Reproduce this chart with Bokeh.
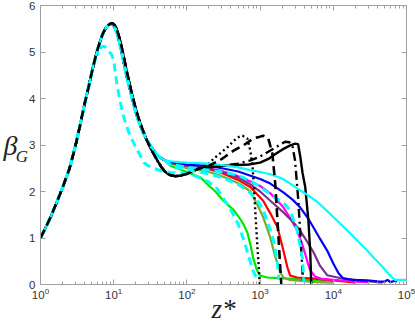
from bokeh.plotting import figure
from bokeh.models import LogAxis, LinearAxis, FixedTicker, CustomJSTickFormatter
from bokeh.embed import file_html
from bokeh.resources import INLINE

# ---------------- data (z*, beta_G) ----------------
RISE_Z = [1, 1.2, 1.4, 1.7, 2, 2.5, 3, 3.5, 4, 4.5, 5, 5.5, 6, 6.5, 7, 7.5, 8]
RISE_B = [1.0, 1.25, 1.48, 1.8, 2.08, 2.5, 2.98, 3.45, 3.88, 4.22, 4.55, 4.82, 5.05, 5.22, 5.37, 5.47, 5.54]

BUNDLE_Z = [8.5, 9, 9.5, 10, 10.5, 11, 12, 13, 14, 15, 16, 18, 20, 22, 25, 28, 32, 36, 40, 45, 50]
BUNDLE_B = [5.58, 5.6, 5.59, 5.56, 5.5, 5.42, 5.2, 4.95, 4.7, 4.48, 4.3, 3.98, 3.7, 3.5, 3.28, 3.12, 2.98, 2.86, 2.77, 2.71, 2.67]

BLACK_Z = [8.5, 9, 9.5, 10, 10.5, 11, 12, 13, 14, 15, 16, 18, 20, 22, 25, 28, 32, 36, 40, 45, 50, 55, 60, 70, 80, 100, 120, 150]
BLACK_B = [5.58, 5.61, 5.62, 5.6, 5.56, 5.49, 5.3, 5.07, 4.83, 4.6, 4.4, 4.06, 3.78, 3.56, 3.32, 3.12, 2.93, 2.78, 2.65, 2.52, 2.43, 2.38, 2.35, 2.33, 2.34, 2.38, 2.44, 2.5]

GREEN_Z = [60, 80, 100, 154, 192, 245, 316, 436, 540, 590, 670, 740, 810, 910, 1000, 1250, 2800, 10000]
GREEN_B = [2.55, 2.48, 2.42, 2.3, 2.15, 2.0, 1.8, 1.6, 1.4, 1.3, 1.12, 0.85, 0.55, 0.3, 0.19, 0.15, 0.12, 0.06]

OLIVE_Z = [60, 80, 100, 200, 300, 400, 540, 740, 960, 1100, 1250, 1380, 1610, 1900, 2080, 2500, 4000, 6000, 10000]
OLIVE_B = [2.6, 2.55, 2.5, 2.42, 2.33, 2.25, 2.15, 2.0, 1.65, 1.45, 1.2, 1.0, 0.6, 0.25, 0.15, 0.1, 0.07, 0.05, 0.04]

RED_Z = [60, 80, 100, 200, 300, 500, 740, 1100, 1380, 1730, 1900, 2080, 2360, 2580, 3200, 5000, 10000, 15000, 20000]
RED_B = [2.62, 2.58, 2.55, 2.48, 2.4, 2.25, 2.09, 1.8, 1.53, 1.23, 0.98, 0.73, 0.37, 0.19, 0.15, 0.13, 0.09, 0.06, 0.04]

MAGENTA_Z = [60, 80, 100, 200, 300, 500, 810, 1000, 1380, 2080, 2600, 3200, 3700, 4140, 4500, 4850, 5660, 7000, 10000, 15000, 20000, 30000]
MAGENTA_B = [2.63, 2.59, 2.56, 2.5, 2.44, 2.33, 2.19, 2.12, 1.96, 1.66, 1.42, 1.16, 0.9, 0.65, 0.45, 0.3, 0.17, 0.12, 0.1, 0.08, 0.06, 0.05]

PURPLE_Z = [60, 80, 100, 200, 300, 500, 740, 1000, 1380, 2080, 2800, 3520, 4400, 5340, 6600, 8240, 12300, 23000, 35000, 47000]
PURPLE_B = [2.62, 2.58, 2.55, 2.5, 2.42, 2.3, 2.15, 2.0, 1.8, 1.55, 1.35, 1.16, 0.92, 0.7, 0.4, 0.2, 0.14, 0.09, 0.06, 0.04]

BLUE_Z = [60, 80, 100, 200, 300, 500, 740, 1000, 1380, 2080, 2800, 3520, 4400, 5340, 6600, 8240, 10000, 11800, 13700, 18000, 29000, 40000, 50000, 55000, 60000, 70000, 74000]
BLUE_B = [2.63, 2.6, 2.58, 2.55, 2.5, 2.43, 2.34, 2.27, 2.17, 1.98, 1.82, 1.66, 1.45, 1.23, 0.98, 0.73, 0.45, 0.24, 0.13, 0.1, 0.09, 0.07, 0.06, 0.1, 0.05, 0.08, 0.06]

CYAN_Z = [60, 80, 100, 200, 300, 500, 740, 1000, 1380, 2000, 2580, 3500, 4500, 6000, 8000, 10000, 13000, 17000, 22000, 29000, 37000, 47600, 56000, 63600, 70000, 80000, 100000]
CYAN_B = [2.65, 2.63, 2.62, 2.6, 2.57, 2.52, 2.46, 2.42, 2.37, 2.28, 2.17, 2.03, 1.92, 1.78, 1.6, 1.45, 1.28, 1.1, 0.92, 0.73, 0.55, 0.37, 0.24, 0.15, 0.1, 0.1, 0.1]

CD1_Z = [6, 6.5, 7, 7.5, 8, 8.5, 9, 9.5, 10, 11, 12, 13, 14, 16, 18, 20, 23, 26, 30, 35, 45, 60, 80, 100, 130, 160, 200, 250, 316, 400, 500, 600, 700, 800, 900, 1000]
CD1_B = [4.95, 5.08, 5.12, 5.12, 5.08, 5.02, 4.98, 4.92, 4.82, 4.35, 4.0, 3.75, 3.55, 3.28, 3.1, 2.95, 2.78, 2.62, 2.55, 2.5, 2.44, 2.41, 2.4, 2.38, 2.33, 2.28, 2.2, 2.1, 1.85, 1.6, 1.3, 0.95, 0.6, 0.3, 0.12, 0.08]

CD2_Z = [60, 80, 100, 200, 300, 500, 700, 900, 1100, 1250, 1400, 1550, 1650, 1730, 1780, 1800]
CD2_B = [2.55, 2.5, 2.47, 2.38, 2.3, 2.15, 2.0, 1.82, 1.62, 1.35, 1.15, 0.9, 0.65, 0.45, 0.25, 0.1]

CD3_Z = [60, 80, 100, 300, 500, 800, 1100, 1500, 2080, 2580, 3200, 3500, 3770, 3900, 3950]
CD3_B = [2.58, 2.55, 2.52, 2.42, 2.35, 2.2, 2.05, 1.9, 1.76, 1.59, 1.16, 0.85, 0.58, 0.24, 0.05]

DOTTED_Z = [200, 230, 300, 357, 420, 490, 575, 670, 735, 790, 830, 870, 920, 960, 990]
DOTTED_B = [2.6, 2.7, 2.85, 2.95, 3.06, 3.16, 3.2, 3.14, 2.88, 2.52, 2.0, 1.44, 0.8, 0.37, 0.0]

DASHED_Z = [200, 300, 435, 600, 810, 1000, 1100, 1290, 1470, 1610, 1770, 1870, 1950]
DASHED_B = [2.55, 2.7, 2.88, 3.0, 3.14, 3.18, 3.2, 3.15, 2.82, 2.17, 1.1, 0.45, 0.0]

DASHDOT_Z = [200, 300, 500, 740, 1000, 1380, 1800, 2200, 2500, 2750, 3000, 3330, 3600, 3880]
DASHDOT_B = [2.52, 2.55, 2.6, 2.67, 2.75, 2.88, 2.99, 3.07, 3.06, 3.0, 2.67, 1.8, 0.9, 0.0]

SOLID_Z = [200, 300, 500, 700, 1000, 1300, 1600, 2000, 2500, 3000, 3300, 3540, 3800, 4140, 4570, 4850, 5000]
SOLID_B = [2.52, 2.55, 2.57, 2.58, 2.62, 2.7, 2.8, 2.9, 2.98, 3.03, 3.02, 2.75, 2.4, 2.09, 1.38, 0.67, 0.0]

X_TICKS = [1, 10, 100, 1000, 10000, 100000]
Y_TICKS = [0, 1, 2, 3, 4, 5, 6]
X_LABEL = "z*"
Y_LABEL_MAIN = "β"
Y_LABEL_SUB = " \nG"

AXIS_GRAY = "#a0a0a0"
LABEL_COLOR = "#222222"

# ---------------- figure ----------------
p = figure(width=415, height=327, x_axis_type="log", x_range=(1, 1e5), y_range=(0, 6),
           output_backend="svg", toolbar_location=None,
           min_border_left=39, min_border_right=9, min_border_top=5, min_border_bottom=43)
p.grid.visible = False
p.outline_line_color = AXIS_GRAY
p.background_fill_color = "white"
p.border_fill_color = "white"

x_minor = [t * k for t in X_TICKS[:-1] for k in range(2, 10)]

top = LogAxis(formatter=CustomJSTickFormatter(code="return ''"))
right = LinearAxis(formatter=CustomJSTickFormatter(code="return ''"))
p.add_layout(top, "above")
p.add_layout(right, "right")

for ax in p.axis:
    ax.axis_line_color = AXIS_GRAY
    ax.major_tick_line_color = AXIS_GRAY
    ax.minor_tick_line_color = AXIS_GRAY
    ax.major_tick_in = 5
    ax.major_tick_out = 0
    ax.minor_tick_in = 3
    ax.minor_tick_out = 0
    ax.major_label_text_font = "Liberation Sans"
    ax.major_label_text_font_size = "11.5px"
    ax.major_label_text_color = "#333333"
    ax.major_label_standoff = 3
for ax in p.xaxis:
    ax.ticker = FixedTicker(ticks=X_TICKS, minor_ticks=x_minor)
for ax in p.yaxis:
    ax.ticker = FixedTicker(ticks=Y_TICKS)
    ax.minor_tick_line_color = None
for ax in (top, right):
    ax.major_label_text_font_size = "1px"
    ax.major_label_standoff = 0

# x-axis title
xb = p.below[0]
xb.axis_label = X_LABEL
xb.axis_label_text_font = "Liberation Serif"
xb.axis_label_text_font_style = "italic"
xb.axis_label_text_font_size = "27px"
xb.axis_label_text_color = LABEL_COLOR
xb.axis_label_standoff = -8

# y-axis title: subscript on the inner axis, main symbol on an outer, bare axis
yl = p.left[0]
yl.axis_label = Y_LABEL_SUB
yl.axis_label_orientation = "horizontal"
yl.axis_label_text_font = "Liberation Serif"
yl.axis_label_text_font_style = "italic"
yl.axis_label_text_font_size = "17px"
yl.axis_label_text_color = LABEL_COLOR
yl.axis_label_standoff = -2
yl.major_label_standoff = 5

outer = LinearAxis(ticker=FixedTicker(ticks=[]), formatter=CustomJSTickFormatter(code="return ''"),
                   axis_line_color=None, major_tick_line_color=None, minor_tick_line_color=None,
                   major_label_text_font_size="1px", major_label_standoff=0,
                   axis_label=Y_LABEL_MAIN, axis_label_orientation="horizontal",
                   axis_label_text_font="Liberation Serif", axis_label_text_font_style="italic",
                   axis_label_text_font_size="28px", axis_label_text_color=LABEL_COLOR,
                   axis_label_standoff=-5)
p.add_layout(outer, "left")


def cat(*arrs):
    out = []
    for a in arrs:
        out += list(a)
    return out


colored = [
    (GREEN_Z, GREEN_B, "#00e600"),
    (OLIVE_Z, OLIVE_B, "#77ac30"),
    (RED_Z, RED_B, "#ff0000"),
    (MAGENTA_Z, MAGENTA_B, "#ff00ff"),
    (PURPLE_Z, PURPLE_B, "#7e2f8e"),
    (BLUE_Z, BLUE_B, "#0000ff"),
]
for zs, bs, col in colored:
    p.line(cat(RISE_Z, BUNDLE_Z, zs), cat(RISE_B, BUNDLE_B, bs), line_color=col, line_width=2.2)

p.line(cat(RISE_Z, BLACK_Z, SOLID_Z), cat(RISE_B, BLACK_B, SOLID_B), line_color="black", line_width=2.4)
p.line(cat(RISE_Z, BLACK_Z, DASHDOT_Z), cat(RISE_B, BLACK_B, DASHDOT_B), line_color="black",
       line_width=2.4, line_dash="9 4 2 4")
p.line(cat(RISE_Z, BLACK_Z, DOTTED_Z), cat(RISE_B, BLACK_B, DOTTED_B), line_color="black",
       line_width=2.4, line_dash="2 3")

p.line(cat(RISE_Z, BUNDLE_Z, CYAN_Z), cat(RISE_B, BUNDLE_B, CYAN_B), line_color="#00ffff", line_width=2.2)
p.line(cat(RISE_Z[:-4], CD1_Z), cat(RISE_B[:-4], CD1_B), line_color="#00ffff", line_width=3, line_dash="8 5")
p.line(cat(RISE_Z, BUNDLE_Z, CD2_Z), cat(RISE_B, BUNDLE_B, CD2_B), line_color="#00ffff", line_width=3, line_dash="8 5")
p.line(cat(RISE_Z, BUNDLE_Z, CD3_Z), cat(RISE_B, BUNDLE_B, CD3_B), line_color="#00ffff", line_width=3, line_dash="8 5")

p.line(cat(RISE_Z, BLACK_Z, DASHED_Z), cat(RISE_B, BLACK_B, DASHED_B), line_color="black",
       line_width=2.6, line_dash="9 5")

open("out.html", "w").write(file_html(p, INLINE))
